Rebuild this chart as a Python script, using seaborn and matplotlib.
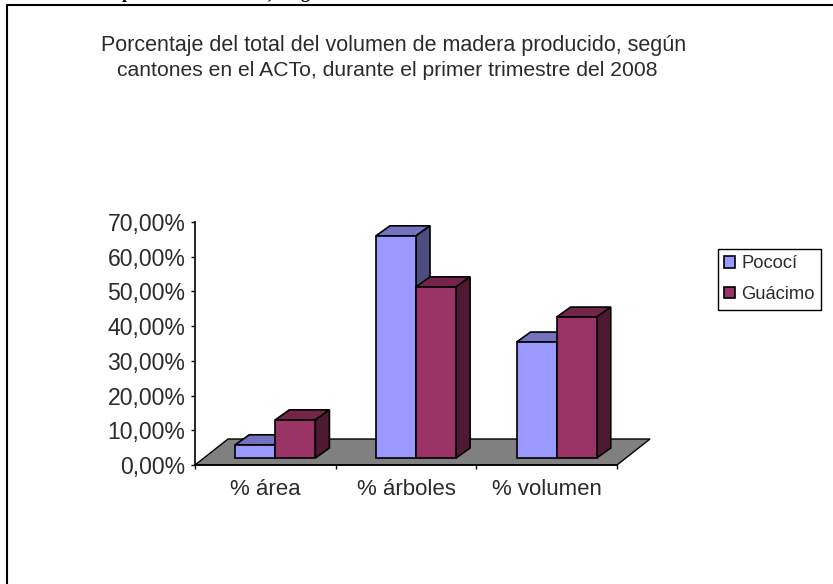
import matplotlib
matplotlib.use("Agg")
import matplotlib.pyplot as plt
import pandas as pd
import seaborn as sns
from matplotlib.colors import to_hex
from matplotlib.lines import Line2D
from matplotlib.patches import Polygon
from matplotlib.transforms import Affine2D, IdentityTransform

# datos
categorias = ["% área", "% árboles", "% volumen"]
pococi = [3.8, 64.0, 33.4]
guacimo = [11.0, 49.3, 40.6]
ticks_y = [0, 10, 20, 30, 40, 50, 60, 70]
etiquetas_y = ["0,00%", "10,00%", "20,00%", "30,00%", "40,00%", "50,00%", "60,00%", "70,00%"]
titulo_1 = "Porcentaje del total del volumen de madera producido, según"
titulo_2 = "cantones en el ACTo, durante el primer trimestre del 2008"

df = pd.DataFrame(
    {
        "categoria": categorias * 2,
        "valor": pococi + guacimo,
        "canton": ["Pococí"] * 3 + ["Guácimo"] * 3,
    }
)

sns.set_style("white")
plt.rcParams["font.family"] = ["Liberation Sans", "DejaVu Sans"]

W, H = 833, 584
gris_texto = "#2b2b2b"
fig = plt.figure(figsize=(W / 100, H / 100), dpi=100)
ax = fig.add_axes([195 / W, 1 - 465 / H, 422 / W, 243 / H])

colores = {"Pococí": "#9999ff", "Guácimo": "#993366"}
sombras = {"#9999ff": ("#7373bf", "#4d4d80"), "#993366": ("#732649", "#4d1933")}

sns.barplot(
    data=df,
    x="categoria",
    y="valor",
    hue="canton",
    palette=colores,
    width=0.57,
    saturation=1,
    edgecolor="black",
    linewidth=1.2,
    ax=ax,
)
ax.set_xlim(-0.5, 2.5)
ax.set_ylim(0, 70)
ax.set_xlabel("")
ax.set_ylabel("")
ax.patch.set_alpha(0)

# ejes
ax.set_yticks(ticks_y, etiquetas_y)
ax.set_xticks(range(3), categorias)
ax.set_xticks([-0.5, 0.5, 1.5, 2.5], minor=True)
ax.tick_params(axis="y", length=3, width=1, color="black", labelsize=16.6, labelcolor=gris_texto, pad=4, left=True)
ax.tick_params(axis="x", which="major", length=0, labelsize=16, labelcolor=gris_texto, pad=10)
ax.tick_params(axis="x", which="minor", length=3, width=1, color="black", bottom=True)
for lado in ["top", "right"]:
    ax.spines[lado].set_visible(False)
for lado in ["left", "bottom"]:
    ax.spines[lado].set_color("black")
    ax.spines[lado].set_linewidth(1.2)

# piso en perspectiva
piso_dx, piso_dy = 33, 26
x0, y0 = ax.transAxes.transform((0, 0))
x1, _ = ax.transAxes.transform((1, 0))
piso = Polygon(
    [(x0, y0), (x1, y0), (x1 + piso_dx, y0 + piso_dy), (x0 + piso_dx, y0 + piso_dy)],
    closed=True,
    facecolor="#808080",
    edgecolor="black",
    linewidth=1,
    transform=IdentityTransform(),
    zorder=1,
)
fig.add_artist(piso)
ax.set_zorder(2)

# barras con profundidad: la cara frontal sale de seaborn, el resto se extruye
off_x, off_y = 10, 7
prof_x, prof_y = 14, 10
desplazar = ax.transData + Affine2D().translate(off_x, off_y)
orden = 3
for barra in list(ax.patches):
    # seaborn deja rectangulos vacios para la leyenda
    if barra.get_width() == 0:
        continue
    (xa, ya), (xb, yb) = desplazar.transform(
        [(barra.get_x(), barra.get_y()), (barra.get_x() + barra.get_width(), barra.get_height())]
    )
    arriba, lateral = sombras[to_hex(barra.get_facecolor())]
    tapa = [(xa, yb), (xb, yb), (xb + prof_x, yb + prof_y), (xa + prof_x, yb + prof_y)]
    costado = [(xb, ya), (xb, yb), (xb + prof_x, yb + prof_y), (xb + prof_x, ya + prof_y)]
    for puntos, color in [(tapa, arriba), (costado, lateral)]:
        ax.add_artist(
            Polygon(
                puntos,
                closed=True,
                facecolor=color,
                edgecolor="black",
                linewidth=1.2,
                transform=IdentityTransform(),
                clip_on=False,
                zorder=orden,
            )
        )
    barra.set_transform(desplazar)
    barra.set_clip_on(False)
    barra.set_zorder(orden + 0.5)
    orden += 1

# leyenda
leg = ax.legend(
    loc="upper left",
    bbox_to_anchor=(718 / W, 1 - 249 / H),
    bbox_transform=fig.transFigure,
    borderaxespad=0,
    frameon=True,
    fancybox=False,
    edgecolor="black",
    framealpha=1,
    fontsize=13.2,
    labelcolor=gris_texto,
    handlelength=0.58,
    handleheight=0.58,
    handletextpad=0.35,
    labelspacing=0.75,
    borderpad=0.35,
)
leg.get_frame().set_linewidth(1)
leg.set_zorder(20)

# titulo y marco
fig.text(394 / W, 1 - 46 / H, titulo_1, ha="center", va="center", fontsize=15.5, color=gris_texto)
fig.text(387.5 / W, 1 - 71 / H, titulo_2, ha="center", va="center", fontsize=15.25, color=gris_texto)
fig.add_artist(Line2D([6.5 / W, 1], [1 - 4.5 / H, 1 - 4.5 / H], color="black", lw=1.5))
fig.add_artist(Line2D([6.5 / W, 6.5 / W], [1 - 4.5 / H, 0], color="black", lw=1.5))

# encabezado del documento cortado por el borde superior
for letra, px in [("p", 127), (",", 270), ("g", 305)]:
    fig.text(px / W, 1 + 2 / H, letra, ha="center", va="baseline", fontsize=13, fontweight="bold", family="Liberation Serif", color="black")

fig.savefig("out.png", dpi=100)
